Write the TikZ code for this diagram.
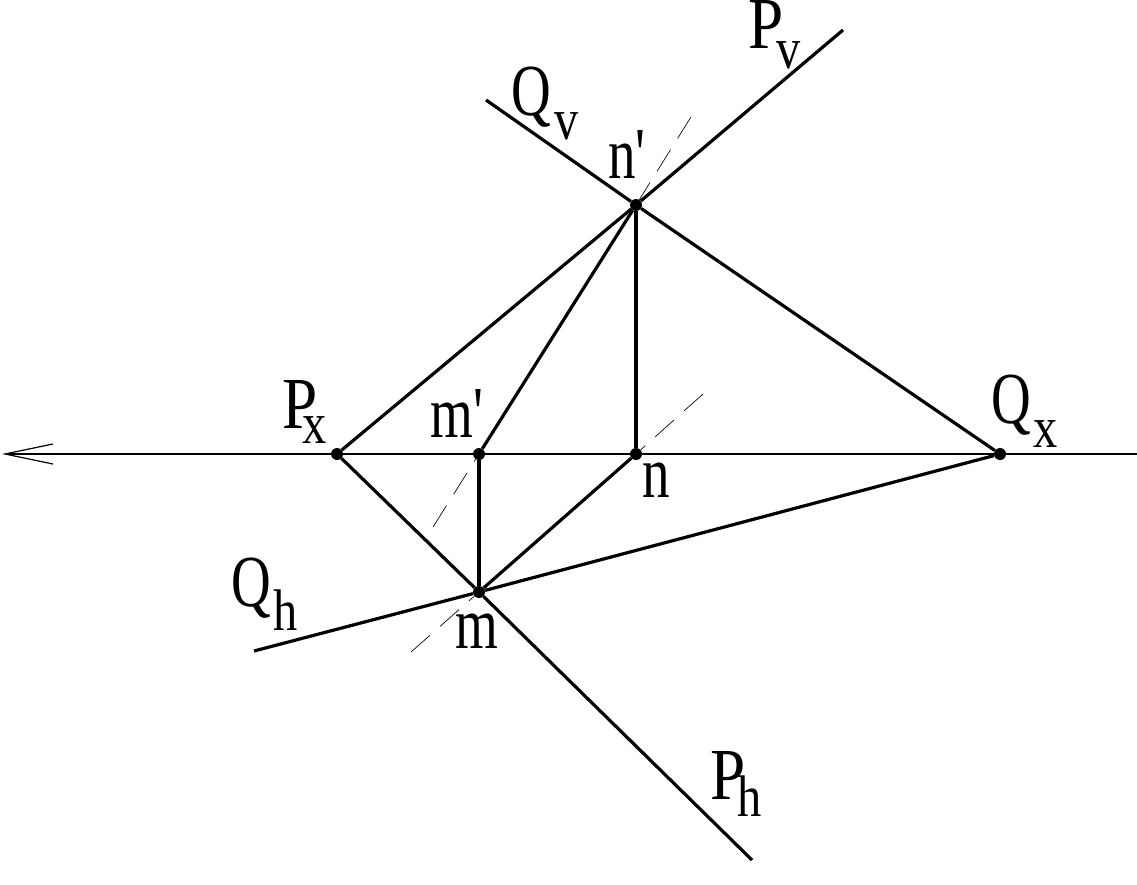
\documentclass[tikz,border=0pt]{standalone}
\usepackage{fontspec}
\setmainfont{Liberation Serif}
\usetikzlibrary{arrows.meta}
\newcommand{\nar}[1]{\scalebox{.75}[1]{#1}}
\newcommand{\wideP}{\scalebox{1.15}[1]{P}}
\newcommand{\lab}[4]{\nar{#1\kern#3\raisebox{-#4}{\fontsize{44}{44}\selectfont\scalebox{1.1}[1]{#2}}}}
\tikzset{
  pt/.style={circle,fill=black,inner sep=0pt,minimum size=9pt},
  lbl/.style={anchor=base west,inner sep=0pt,font=\fontsize{55}{55}\selectfont},
  trace/.style={line width=2.4pt},
  axis/.style={line width=.9pt},
  con/.style={line width=.5pt,dash pattern=on 19pt off 10pt}
}
\begin{document}
\begin{tikzpicture}[x=.75pt,y=-.75pt]
        \useasboundingbox (0,0) rectangle (1137,884);
        % points
        \node[pt] (px) at (337,454) {};
        \node[pt] (mp) at (479,454) {};
        \node[pt] (n) at (636,454) {};
        \node[pt] (qx) at (1000,454) {};
        \node[pt] (np) at (636,205) {};
        \node[pt] (m) at (479,592) {};
        % free ends
        \coordinate (axr) at (1137,454);
        \coordinate (axl) at (2,454);
        \coordinate (pv) at (843,30);
        \coordinate (qv) at (486,100);
        \coordinate (ph) at (752,860);
        \coordinate (qh) at (254,651);
        \coordinate (c1) at (691,117);
        \coordinate (c2) at (433,527);
        \coordinate (c3) at (703,394);
        \coordinate (c4) at (411,652);
        % axis
        \draw[axis,-{Straight Barb[length=36pt,width=15pt,line width=.9pt]}] (axr) -- (axl);
        % traces
        \draw[trace] (px) -- (np);
        \draw[trace] (np) -- (pv);
        \draw[trace] (px) -- (m);
        \draw[trace] (m) -- (ph);
        \draw[trace] (qv) -- (np);
        \draw[trace] (np) -- (qx);
        \draw[trace] (qh) -- (m);
        \draw[trace] (m) -- (qx);
        \draw[trace] (mp) -- (np);
        \draw[trace] (np) -- (n);
        \draw[trace] (mp) -- (m);
        \draw[trace] (m) -- (n);
        % construction lines
        \draw[con] (c1) -- (np);
        \draw[con] (c2) -- (mp);
        \draw[con] (c3) -- (n);
        \draw[con] (c4) -- (m);
        % labels
        \node[lbl] (lpv) at (748,48.5) {\lab{\wideP}{v}{-7pt}{15pt}};
        \node[lbl] (lqv) at (511,116) {\lab{Q}{v}{3.5pt}{18pt}};
        \node[lbl] (lpx) at (282,428) {\lab{\wideP}{x}{-15pt}{11.5pt}};
        \node[lbl] (lqx) at (991,423) {\lab{Q}{x}{2.5pt}{18pt}};
        \node[lbl] (lqh) at (231,606) {\lab{Q}{h}{2.5pt}{18pt}};
        \node[lbl] (lph) at (710,799) {\lab{\wideP}{h}{-8pt}{13pt}};
        \node[lbl] (lnp) at (608,179) {\nar{n\textquotesingle}};
        \node[lbl] (lmp) at (430,437) {\nar{m\textquotesingle}};
        \node[lbl] (ln) at (642,497) {\nar{n}};
        \node[lbl] (lm) at (455,648) {\nar{m}};
      \end{tikzpicture}
\end{document}
